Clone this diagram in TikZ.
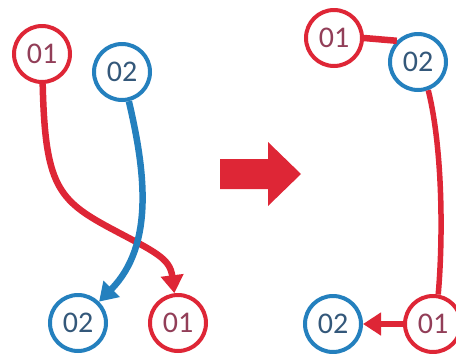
\documentclass[tikz,border=0pt]{standalone}
\usepackage{fontspec}
\setmainfont{Carlito}
\usepackage{tikz}
\usetikzlibrary{positioning, arrows.meta}

\definecolor{ballred}{RGB}{222,38,54}
\definecolor{ballblue}{RGB}{36,128,190}
\definecolor{textred}{RGB}{146,62,88}
\definecolor{textblue}{RGB}{52,88,122}

\begin{document}
\begin{tikzpicture}[
    x = 1pt, y = -1pt,
    node distance = 40pt,
    ball/.style = {circle, draw, line width=4pt, fill=white, minimum size=56pt, inner sep=0pt, font=\fontsize{30}{30}\selectfont},
    redball/.style = {ball, draw=ballred, text=textred},
    blueball/.style = {ball, draw=ballblue, text=textblue},
    link/.style = {line width=6.5pt, -{Triangle[width=22pt, length=18pt]}}
]
\useasboundingbox (0,0) rectangle (456,354);

% Before
    \node[redball] (one1) at (42,54) {01};
    \node[blueball] (two1) at (122,72) {02};
    \node[blueball] (two2) at (78,323) {02};
    \node[redball, right=of two2] (one2) {01};

% After
    \node[redball] (one3) at (334,38) {01};
    \node[blueball] (two3) at (418,62) {02};
    \node[blueball] (two4) at (333,324) {02};
    \node[redball, right=of two4] (one4) {01};

% Big arrow
    \fill[ballred] (220,159) -- (268,159) -- (268,142) -- (301,174) -- (268,206) -- (268,189) -- (220,189) -- cycle;

% Arrows
    \draw[link, draw=ballred] (one1) .. controls (45,185) and (58,200) .. (110,228) .. controls (155,252) and (170,258) .. (one2);
    \draw[link, draw=ballblue] (two1) .. controls (145,170) and (155,245) .. (two2);
    \draw[line width=6.5pt, ballred] (one3.east) -- (two3.135);
    \draw[line width=5.5pt, ballred] (two3.-70) .. controls (443,150) and (443,240) .. (one4.80);
    \draw[link, line width=6pt, draw=ballred] (one4) -- (two4);
\end{tikzpicture}
\end{document}
